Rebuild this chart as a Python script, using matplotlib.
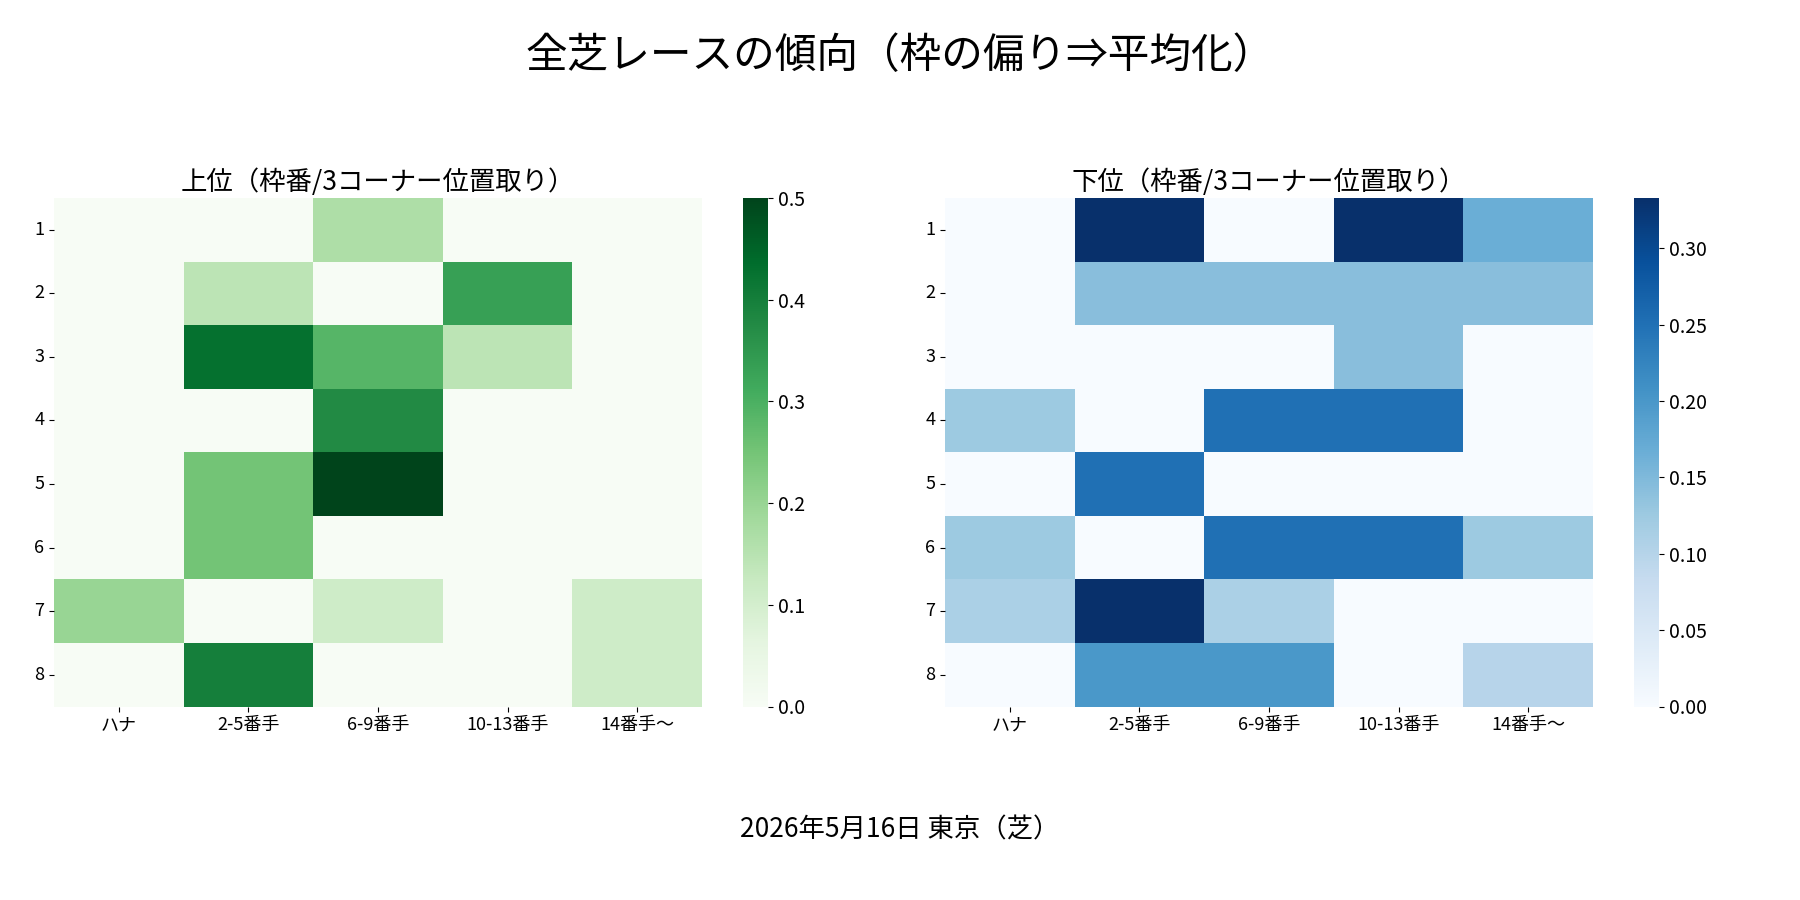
import numpy as np
import matplotlib
matplotlib.use("Agg")
import matplotlib.pyplot as plt
import seaborn as sns

plt.rcParams['font.family'] = ['Noto Sans CJK JP', 'DejaVu Sans']

gates = ['1', '2', '3', '4', '5', '6', '7', '8']
positions = ['ハナ', '2-5番手', '6-9番手', '10-13番手', '14番手〜']

upper = [
    [0, 0, 0.167, 0, 0],
    [0, 0.143, 0, 0.333, 0],
    [0, 0.429, 0.286, 0.143, 0],
    [0, 0, 0.375, 0, 0],
    [0, 0.25, 0.5, 0, 0],
    [0, 0.25, 0, 0, 0],
    [0.2, 0, 0.111, 0, 0.111],
    [0, 0.4, 0, 0, 0.111],
]
lower = [
    [0, 0.333, 0, 0.333, 0.167],
    [0, 0.143, 0.143, 0.143, 0.143],
    [0, 0, 0, 0.143, 0],
    [0.125, 0, 0.25, 0.25, 0],
    [0, 0.25, 0, 0, 0],
    [0.125, 0, 0.25, 0.25, 0.125],
    [0.111, 0.333, 0.111, 0, 0],
    [0, 0.2, 0.2, 0, 0.1],
]

fig, (ax1, ax2) = plt.subplots(1, 2, figsize=(18, 9), dpi=100)
fig.subplots_adjust(left=0.03, right=0.975, top=0.78, bottom=0.215, wspace=0.1)

sns.heatmap(np.array(upper), cmap='Greens', ax=ax1, xticklabels=positions, yticklabels=gates)
sns.heatmap(np.array(lower), cmap='Blues', ax=ax2, xticklabels=positions, yticklabels=gates)

for ax, t in [(ax1, '上位（枠番/3コーナー位置取り）'), (ax2, '下位（枠番/3コーナー位置取り）')]:
    ax.set_title(t, fontsize=19)
    ax.tick_params(axis='both', labelsize=13)
    ax.set_yticklabels(gates, rotation=0)
    ax.set_xticklabels(positions, rotation=0)
    ax.collections[0].colorbar.ax.tick_params(labelsize=14)

fig.suptitle('全芝レースの傾向（枠の偏り⇒平均化）', fontsize=30, y=0.96)
fig.text(0.5, 0.07, '2026年5月16日 東京（芝）', ha='center', fontsize=19)

plt.savefig('out.png', dpi=100)
